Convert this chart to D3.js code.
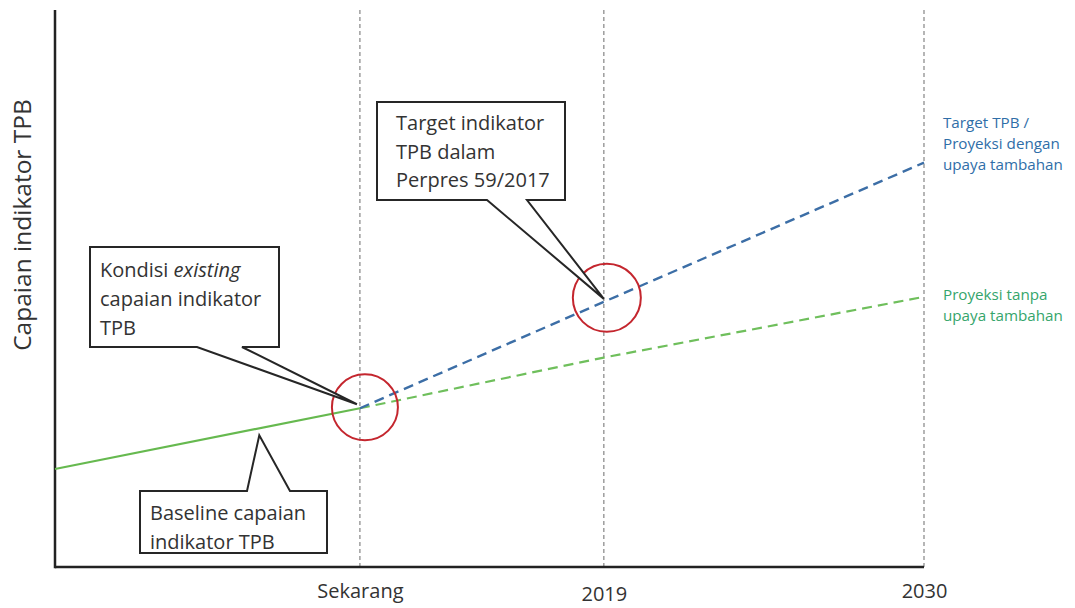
<!DOCTYPE html>
<html>
<head>
<meta charset="utf-8">
<script src="https://cdn.jsdelivr.net/npm/d3@7"></script>
<style>
  html, body { margin: 0; padding: 0; background: #fff; }
  svg { display: block; font-family: "Open Sans", "Noto Sans", sans-serif; }
</style>
</head>
<body>
<svg id="chart" width="1075" height="608"></svg>
<script>
// Time axis: abstract time units, with the three labelled moments
const tickLabels = ["Sekarang", "2019", "2030"];
const tickTimes = [10, 18, 28.5];

// Indicator achievement (relative units, 0–100)
const baselineTimes = [0, 10];
const baselineValues = [17.6, 28.5];
const targetTimes = [10, 18, 28.5];
const targetValues = [28.5, 47.6, 72.6];
const noEffortTimes = [10, 18, 28.5];
const noEffortValues = [28.5, 37.6, 48.5];

const seriesLabelsTarget = ["Target TPB /", "Proyeksi dengan", "upaya tambahan"];
const seriesLabelsNoEffort = ["Proyeksi tanpa", "upaya tambahan"];

const W = 1075, H = 608;
const margin = { left: 55, right: 151, top: 10, bottom: 41 };

const svg = d3.select("#chart");

const x = d3.scaleLinear().domain([0, 28.5]).range([margin.left, W - margin.right]);
const y = d3.scaleLinear().domain([0, 100]).range([H - margin.bottom, margin.top]);

const COLORS = {
  axis: "#222",
  grid: "#858585",
  green: "#66b94f",
  greenDash: "#6fbf5c",
  blue: "#3c6ea6",
  blueText: "#2f6ea8",
  greenText: "#35a56b",
  red: "#c4262e",
  text: "#333"
};

const zip = (ts, vs) => ts.map((t, i) => ({ t, v: vs[i] }));
const line = d3.line().x(d => x(d.t)).y(d => y(d.v));

// Vertical dashed reference lines at each labelled moment
svg.append("g").selectAll("line")
  .data(tickTimes)
  .join("line")
  .attr("x1", d => x(d)).attr("x2", d => x(d))
  .attr("y1", y(100)).attr("y2", y(0))
  .attr("stroke", COLORS.grid)
  .attr("stroke-width", 1.2)
  .attr("stroke-dasharray", "4,3");

// Axes
const xAxis = d3.axisBottom(x)
  .tickValues(tickTimes)
  .tickFormat((d, i) => tickLabels[i])
  .tickSize(0)
  .tickPadding(17);
const gx = svg.append("g")
  .attr("transform", `translate(0,${y(0)})`)
  .call(xAxis);
gx.select(".domain").attr("stroke", COLORS.axis).attr("stroke-width", 2.5)
  .attr("d", `M${margin.left},0H${x(28.5)}`);
gx.selectAll(".tick text")
  .attr("font-family", "Open Sans, sans-serif")
  .attr("font-size", 20)
  .attr("fill", COLORS.text)
  .attr("dy", (d, i) => i === 1 ? "0.83em" : "0.71em");

const gy = svg.append("g")
  .attr("transform", `translate(${margin.left},0)`)
  .call(d3.axisLeft(y).tickValues([]).tickSize(0));
gy.select(".domain").attr("stroke", COLORS.axis).attr("stroke-width", 2.5)
  .attr("d", `M0,${y(100)}V${y(0) + 1.2}`);

// Y axis title
svg.append("text")
  .attr("transform", `translate(31,225) rotate(-90)`)
  .attr("text-anchor", "middle")
  .attr("font-size", 24.5)
  .attr("fill", COLORS.text)
  .text("Capaian indikator TPB");

// Projection without additional effort
svg.append("path")
  .datum(zip(noEffortTimes, noEffortValues))
  .attr("d", line)
  .attr("fill", "none")
  .attr("stroke", COLORS.greenDash)
  .attr("stroke-width", 2.2)
  .attr("stroke-dasharray", "10,6");

// Target / projection with additional effort
svg.append("path")
  .datum(zip(targetTimes, targetValues))
  .attr("d", line)
  .attr("fill", "none")
  .attr("stroke", COLORS.blue)
  .attr("stroke-width", 2.4)
  .attr("stroke-dasharray", "10,6");

// Baseline (historical achievement)
svg.append("path")
  .datum(zip(baselineTimes, baselineValues))
  .attr("d", line)
  .attr("fill", "none")
  .attr("stroke", COLORS.green)
  .attr("stroke-width", 2.2);

// Highlight circles around the current condition and the 2019 target
const highlights = [
  { t: targetTimes[0], v: targetValues[0], dx: 5, dy: -1, r: 33 },
  { t: targetTimes[1], v: targetValues[1], dx: 3, dy: -4, r: 34 }
];
svg.append("g").selectAll("circle")
  .data(highlights)
  .join("circle")
  .attr("cx", d => x(d.t) + d.dx)
  .attr("cy", d => y(d.v) + d.dy)
  .attr("r", d => d.r)
  .attr("fill", "none")
  .attr("stroke", COLORS.red)
  .attr("stroke-width", 2);

// End-of-line series labels
function seriesLabel(lines, color, yTop) {
  const t = svg.append("text")
    .attr("x", x(28.5) + 19)
    .attr("y", yTop)
    .attr("font-size", 15.2)
    .attr("fill", color);
  lines.forEach((s, i) => t.append("tspan").attr("x", x(28.5) + 19).attr("dy", i === 0 ? 0 : 21).text(s));
}
seriesLabel(seriesLabelsTarget, COLORS.blueText, 128);
seriesLabel(seriesLabelsNoEffort, COLORS.greenText, 300);

// Speech-bubble callouts
function callout(box, side, baseA, baseB, tip) {
  const { x0, y0, x1, y1 } = box;
  let d;
  if (side === "bottom") {
    d = `M${x0},${y0}H${x1}V${y1}H${baseB}L${tip[0]},${tip[1]}L${baseA},${y1}H${x0}Z`;
  } else {
    d = `M${x0},${y0}H${baseA}L${tip[0]},${tip[1]}L${baseB},${y0}H${x1}V${y1}H${x0}Z`;
  }
  svg.append("path")
    .attr("d", d)
    .attr("fill", "#fff")
    .attr("stroke", "#262626")
    .attr("stroke-width", 2)
    .attr("stroke-linejoin", "miter");
}
function calloutText(lines, tx, ty, lh) {
  const t = svg.append("text")
    .attr("x", tx).attr("y", ty)
    .attr("font-size", 20)
    .attr("fill", COLORS.text);
  lines.forEach((parts, i) => {
    const first = t.append("tspan").attr("x", tx).attr("dy", i === 0 ? 0 : lh);
    parts.forEach((p, j) => {
      const span = j === 0 ? first : t.append("tspan");
      span.text(p.text);
      if (p.italic) span.attr("font-style", "italic");
    });
  });
}

// Current condition
callout({ x0: 90, y0: 247, x1: 279, y1: 347 }, "bottom", 197, 242,
  [x(targetTimes[0]) - 3, y(targetValues[0]) - 4]);
calloutText([
  [{ text: "Kondisi " }, { text: "existing", italic: true }],
  [{ text: "capaian indikator" }],
  [{ text: "TPB" }]
], 100, 277, 29);

// Target in the presidential regulation
callout({ x0: 377, y0: 102, x1: 565, y1: 200 }, "bottom", 487, 527,
  [x(targetTimes[1]), y(targetValues[1]) - 3]);
calloutText([
  [{ text: "Target indikator" }],
  [{ text: "TPB dalam" }],
  [{ text: "Perpres 59/2017" }]
], 396, 130, 28.5);

// Baseline
const baseTipT = 6.7;
const baseTipV = d3.interpolateNumber(baselineValues[0], baselineValues[1])(baseTipT / 10);
callout({ x0: 140, y0: 491, x1: 327, y1: 553 }, "top", 247, 290,
  [x(baseTipT), y(baseTipV) + 7]);
calloutText([
  [{ text: "Baseline capaian" }],
  [{ text: "indikator TPB" }]
], 150, 520, 28.5);
</script>
</body>
</html>
